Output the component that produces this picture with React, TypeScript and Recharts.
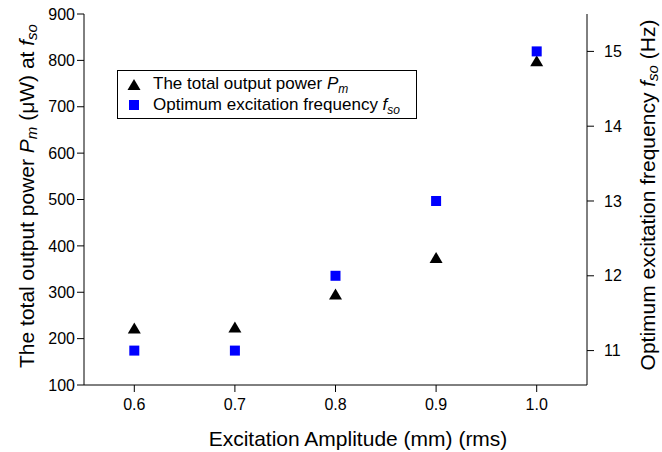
import React from 'react';
import { ComposedChart, Scatter, XAxis, YAxis, Legend } from 'recharts';

const amplitudes = [0.6, 0.7, 0.8, 0.9, 1.0];
const powerValues = [221, 223, 294, 373, 797];
const freqValues = [11, 11, 12, 13, 15];
const xTicks = [0.6, 0.7, 0.8, 0.9, 1.0];
const powerTicks = [100, 200, 300, 400, 500, 600, 700, 800, 900];
const freqTicks = [11, 12, 13, 14, 15];

const powerData = amplitudes.map((x, i) => ({ x, p: powerValues[i] }));
const freqData = amplitudes.map((x, i) => ({ x, f: freqValues[i] }));

const FONT = 'Liberation Sans, Arial, sans-serif';

const Triangle = (props: any) => {
  const { cx, cy } = props;
  if (cx == null || cy == null) return null;
  const h = 11;
  const w = 13;
  return (
    <polygon
      points={`${cx},${cy - h / 2 - 1} ${cx - w / 2},${cy + h / 2 - 1} ${cx + w / 2},${cy + h / 2 - 1}`}
      fill="#000"
    />
  );
};

const Square = (props: any) => {
  const { cx, cy } = props;
  if (cx == null || cy == null) return null;
  const s = 10;
  return <rect x={cx - s / 2} y={cy - s / 2} width={s} height={s} fill="#0000ff" />;
};

const LegendBox = () => (
  <div
    style={{
      border: '1px solid #000',
      background: '#fff',
      width: 298,
      height: 47,
      position: 'relative',
      fontFamily: FONT,
      fontSize: 17,
      color: '#000',
    }}
  >
    <svg width={20} height={48} style={{ position: 'absolute', left: 6, top: 0 }}>
      <polygon points="10,8 3.5,19 16.5,19" fill="#000" />
      <rect x={5} y={29} width={10} height={10} fill="#0000ff" />
    </svg>
    <div style={{ position: 'absolute', left: 35, top: 3, whiteSpace: 'nowrap', lineHeight: '20px' }}>
      The total output power <i>P</i><sub style={{ fontSize: 12, fontStyle: 'italic', lineHeight: 0 }}>m</sub>
    </div>
    <div style={{ position: 'absolute', left: 35, top: 24, whiteSpace: 'nowrap', lineHeight: '20px' }}>
      Optimum excitation frequency <i>f</i><sub style={{ fontSize: 12, fontStyle: 'italic', lineHeight: 0 }}>so</sub>
    </div>
  </div>
);

const LeftLabel = () => (
  <text
    x={26}
    y={196}
    transform="rotate(-90, 26, 196)"
    textAnchor="middle"
    dominantBaseline="central"
    fontFamily={FONT}
    fontSize={21}
    fill="#000"
  >
    <tspan>The total output power </tspan>
    <tspan fontStyle="italic">P</tspan>
    <tspan fontStyle="italic" fontSize={15} dy={5}>m</tspan>
    <tspan dy={-5}> (μW) at </tspan>
    <tspan fontStyle="italic">f</tspan>
    <tspan fontStyle="italic" fontSize={15} dy={5}>so</tspan>
  </text>
);

const RightLabel = () => (
  <text
    x={647}
    y={195}
    transform="rotate(-90, 647, 195)"
    textAnchor="middle"
    dominantBaseline="central"
    fontFamily={FONT}
    fontSize={21}
    fill="#000"
  >
    <tspan>Optimum excitation frequency </tspan>
    <tspan fontStyle="italic">f</tspan>
    <tspan fontStyle="italic" fontSize={15} dy={5}>so</tspan>
    <tspan dy={-5}> (Hz)</tspan>
  </text>
);

const BottomLabel = () => (
  <text
    x={358}
    y={438}
    textAnchor="middle"
    dominantBaseline="central"
    fontFamily={FONT}
    fontSize={21}
    fill="#000"
  >
    Excitation Amplitude (mm) (rms)
  </text>
);

const tickStyle = { fontFamily: FONT, fontSize: 16, fill: '#000' };

export default function App() {
  return (
    <div style={{ position: 'absolute', left: 0, top: 0, background: '#fff' }}>
      <ComposedChart width={662} height={452} margin={{ top: 14, right: 0, bottom: 0, left: 0 }}>
        <XAxis
          xAxisId="bottom"
          type="number"
          dataKey="x"
          domain={[0.55, 1.05]}
          ticks={xTicks}
          tickFormatter={(v: number) => v.toFixed(1)}
          height={67}
          tickSize={7}
          tickMargin={7}
          tick={tickStyle}
          stroke="#000"
          tickLine={{ stroke: '#000' }}
          allowDataOverflow
          label={<BottomLabel />}
        />
        <XAxis
          xAxisId="top"
          orientation="top"
          type="number"
          dataKey="x"
          domain={[0.55, 1.05]}
          height={0}
          tick={false}
          tickLine={false}
          stroke="#000"
        />
        <YAxis
          yAxisId="left"
          type="number"
          domain={[100, 900]}
          ticks={powerTicks}
          width={84}
          tickSize={7}
          tickMargin={2}
          tick={tickStyle}
          stroke="#000"
          tickLine={{ stroke: '#000' }}
          allowDataOverflow
          label={<LeftLabel />}
        />
        <YAxis
          yAxisId="right"
          orientation="right"
          type="number"
          domain={[10.54, 15.5]}
          ticks={freqTicks}
          width={75}
          tickSize={7}
          tickMargin={10}
          tick={tickStyle}
          stroke="#000"
          tickLine={{ stroke: '#000' }}
          allowDataOverflow
          label={<RightLabel />}
        />
        <Scatter
          name="The total output power Pm"
          data={powerData}
          dataKey="p"
          xAxisId="bottom"
          yAxisId="left"
          shape={<Triangle />}
          isAnimationActive={false}
        />
        <Scatter
          name="Optimum excitation frequency fso"
          data={freqData}
          dataKey="f"
          xAxisId="bottom"
          yAxisId="right"
          shape={<Square />}
          isAnimationActive={false}
        />
        <Legend
          layout="vertical"
          align="center"
          verticalAlign="middle"
          wrapperStyle={{ left: 117, top: 70, width: 300, height: 49 }}
          content={() => <LegendBox />}
        />
      </ComposedChart>
    </div>
  );
}
